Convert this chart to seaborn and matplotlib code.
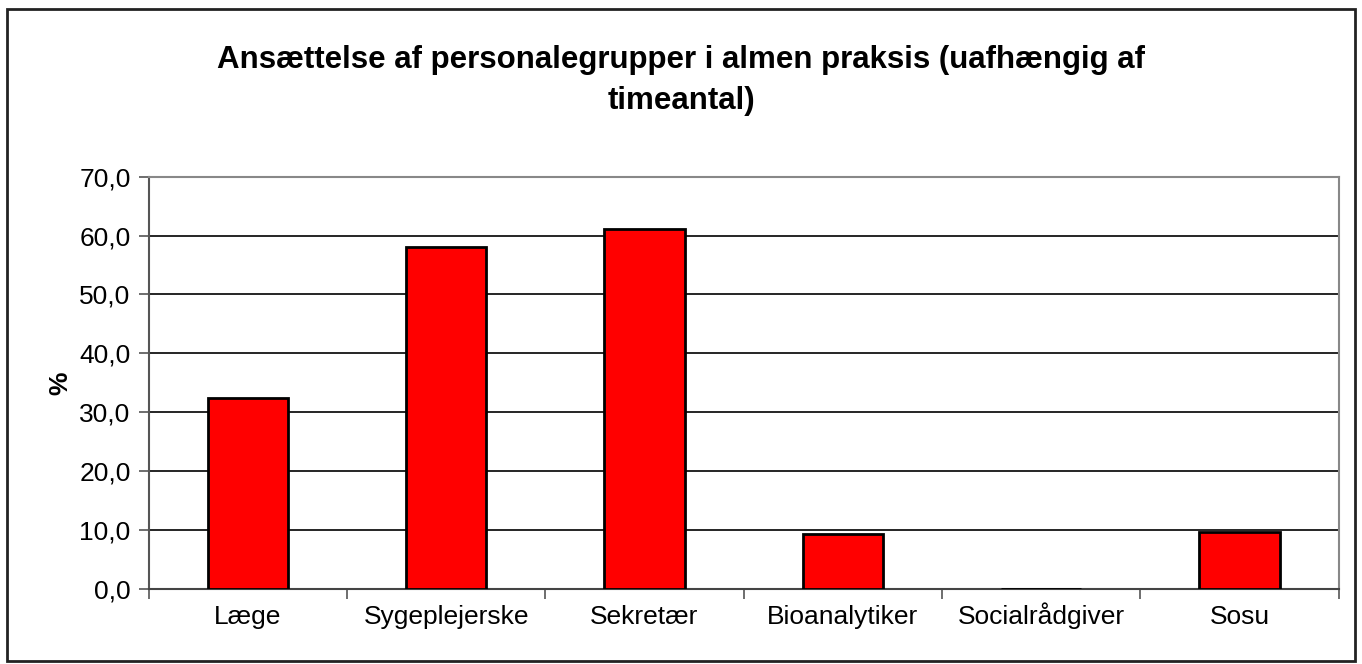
import numpy as np
import pandas as pd
import seaborn as sns
import matplotlib.pyplot as plt
from matplotlib.patches import Rectangle
from matplotlib.ticker import FixedLocator, FuncFormatter

categories = ['Læge', 'Sygeplejerske', 'Sekretær', 'Bioanalytiker', 'Socialrådgiver', 'Sosu']
values = [32.5, 58.0, 61.1, 9.3, 0.0, 9.6]
yticks = [0, 10, 20, 30, 40, 50, 60, 70]

df = pd.DataFrame({'Gruppe': categories, 'Procent': values})

sns.set_style('white')
plt.rcParams['font.family'] = ['Liberation Sans', 'DejaVu Sans']
plt.rcParams['text.color'] = 'black'
plt.rcParams['xtick.labelcolor'] = 'black'
plt.rcParams['ytick.labelcolor'] = 'black'
plt.rcParams['axes.labelcolor'] = 'black'

fig = plt.figure(figsize=(13.62, 6.64), dpi=100)
ax = fig.add_axes([0.1091, 0.1130, 0.8738, 0.6209])

sns.barplot(data=df, x='Gruppe', y='Procent', color='#ff0000', saturation=1,
            edgecolor='black', linewidth=2, width=0.405, ax=ax, zorder=3)

ax.set_ylim(0, 70)
ax.set_xlim(-0.5, len(categories) - 0.5)
ax.set_yticks(yticks)
ax.yaxis.set_major_formatter(FuncFormatter(lambda v, p: f'{v:.1f}'.replace('.', ',')))
ax.yaxis.grid(True, color='black', linewidth=1.2, zorder=0)
ax.set_axisbelow(True)

# x ticks sit between categories, labels centred under bars
ax.xaxis.set_minor_locator(FixedLocator(np.arange(-0.5, len(categories), 1.0)))
ax.tick_params(axis='x', which='major', length=0, pad=25, labelsize=19)
ax.tick_params(axis='x', which='minor', length=7, width=1.2, color='#555555', direction='out', bottom=True)
ax.tick_params(axis='y', length=7, width=1.2, color='#555555', direction='out', left=True, pad=6, labelsize=19)
for lab in ax.get_xticklabels():
    lab.set_verticalalignment('baseline')

for side in ['top', 'right']:
    ax.spines[side].set_color('#888888')
    ax.spines[side].set_linewidth(1.5)
ax.spines['left'].set_color('#555555')
ax.spines['left'].set_linewidth(1.5)
ax.spines['bottom'].set_color('#444444')
ax.spines['bottom'].set_linewidth(1.5)

ax.set_xlabel('')
ax.set_ylabel('%', fontsize=19, fontweight='bold', labelpad=5)

fig.text(0.5, 0.879, 'Ansættelse af personalegrupper i almen praksis (uafhængig af\ntimeantal)',
         ha='center', va='center', fontsize=22.5, fontweight='bold', linespacing=1.5)

fig.add_artist(Rectangle((0.005, 0.004), 0.99, 0.982, transform=fig.transFigure,
                         fill=False, edgecolor='#222222', linewidth=2))

plt.savefig('out.png', dpi=100)
